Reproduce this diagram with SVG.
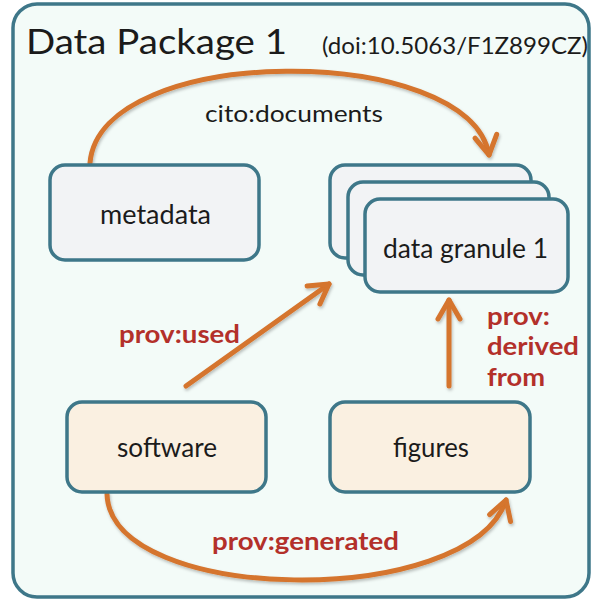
<svg xmlns="http://www.w3.org/2000/svg" width="591" height="600" viewBox="0 0 591 600">
  <style>
    .title { font-family: Lato, "Liberation Sans", sans-serif; fill: #1b1b1b; }
    .box { stroke: #3e7789; stroke-width: 3.5; }
    .plain { fill: #f2f3f5; }
    .warm { fill: #faf0e1; }
    .label { font-family: Lato, "Liberation Sans", sans-serif; font-size: 27px; fill: #1b1b1b; }
    .rel { font-family: Lato, "Liberation Sans", sans-serif; font-size: 25px; font-weight: bold; fill: #b3302a; }
    .edge { fill: none; stroke: #d5742d; stroke-width: 5; stroke-linecap: round; filter: url(#shade); }
  </style>
  <defs>
    <filter id="shade" filterUnits="userSpaceOnUse" x="0" y="0" width="591" height="600">
      <feDropShadow dx="1" dy="2" stdDeviation="1.5" flood-color="#000" flood-opacity="0.25"/>
    </filter>
    <marker id="head" markerUnits="userSpaceOnUse" viewBox="-24 -14 28 28" markerWidth="28" markerHeight="28" refX="0" refY="0" orient="auto">
      <path d="M-19,-11 L0,0 L-19,11" fill="none" stroke="#d5742d" stroke-width="5" stroke-linecap="round" stroke-linejoin="round"/>
    </marker>
  </defs>

  <!-- package frame -->
  <g id="package">
    <rect x="13" y="4" width="576" height="593" rx="24" fill="#f3fbf8" stroke="#3e7789" stroke-width="3.5"/>
    <text class="title" x="26" y="54" font-size="34" textLength="261" lengthAdjust="spacingAndGlyphs">Data Package 1</text>
    <text class="title" x="322" y="54" font-size="23" textLength="266" lengthAdjust="spacingAndGlyphs">(doi:10.5063/F1Z899CZ)</text>
  </g>

  <!-- relations -->
  <g id="connectors">
    <path class="edge" d="M90,163 C100,42 470,42 489,155" marker-end="url(#head)"/>
    <path class="edge" d="M186,386 L329,284" marker-end="url(#head)"/>
    <path class="edge" d="M449,386 L449,300" marker-end="url(#head)"/>
    <path class="edge" d="M107,494 C110,605 470,610 506,500" marker-end="url(#head)"/>
    <text class="title" x="205" y="122" font-size="24" textLength="178" lengthAdjust="spacingAndGlyphs">cito:documents</text>
    <text class="rel" x="119" y="343" textLength="121" lengthAdjust="spacingAndGlyphs">prov:used</text>
    <text class="rel" x="487" y="325" textLength="63" lengthAdjust="spacingAndGlyphs">prov:</text>
    <text class="rel" x="487" y="355" textLength="92" lengthAdjust="spacingAndGlyphs">derived</text>
    <text class="rel" x="487" y="386" textLength="58" lengthAdjust="spacingAndGlyphs">from</text>
    <text class="rel" x="212" y="550" textLength="187" lengthAdjust="spacingAndGlyphs">prov:generated</text>
  </g>

  <g id="metadata">
    <rect class="box plain" x="50" y="165" width="209" height="95" rx="15"/>
    <text class="label" x="100" y="224" textLength="111" lengthAdjust="spacingAndGlyphs">metadata</text>
  </g>

  <g id="data-granule">
    <rect class="box plain" x="330" y="165" width="201" height="93" rx="15"/>
    <rect class="box plain" x="348" y="182" width="201" height="93" rx="15"/>
    <rect class="box plain" x="365" y="199" width="203" height="93" rx="15"/>
    <text class="label" x="383" y="258" textLength="165" lengthAdjust="spacingAndGlyphs">data granule 1</text>
  </g>

  <g id="software">
    <rect class="box warm" x="67" y="402" width="199" height="90" rx="15"/>
    <text class="label" x="117" y="457" textLength="100" lengthAdjust="spacingAndGlyphs">software</text>
  </g>

  <g id="figures">
    <rect class="box warm" x="330" y="402" width="200" height="90" rx="15"/>
    <text class="label" x="393" y="457" textLength="76" lengthAdjust="spacingAndGlyphs">figures</text>
  </g>
</svg>
